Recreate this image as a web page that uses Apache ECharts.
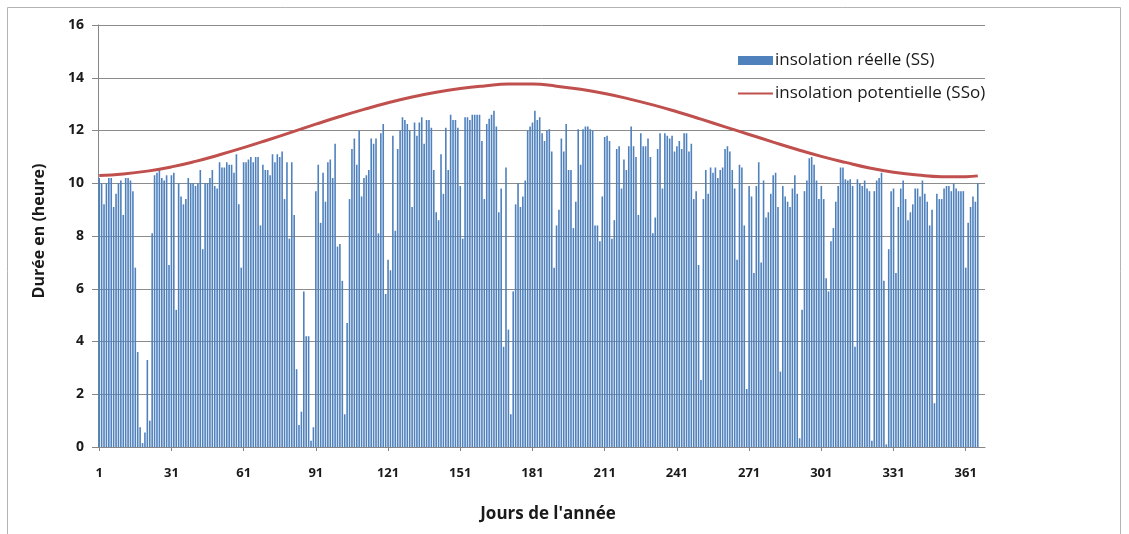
<!DOCTYPE html>
<html>
<head>
<meta charset="utf-8">
<script src="https://cdn.jsdelivr.net/npm/echarts@6/dist/echarts.min.js"></script>
<style>
  html, body { margin: 0; padding: 0; background: #fff; }
  #chart { width: 1129px; height: 534px; }
</style>
</head>
<body>
<div id="chart"></div>
<script>
// Daily sunshine duration (hours), days 1..366
const ssValues = [
  10.2, 10.0, 9.2, 10.0, 10.2, 10.2, 9.1, 9.6, 10.0, 10.1,
  8.8, 10.2, 10.2, 10.1, 9.7, 6.8, 3.6, 0.75, 0.15, 0.55,
  3.3, 1.0, 8.1, 10.3, 10.4, 10.5, 10.2, 10.1, 10.3, 6.9,
  10.3, 10.4, 5.2, 10.0, 9.5, 9.2, 9.4, 10.2, 10.0, 10.0,
  9.9, 10.0, 10.5, 7.5, 10.0, 10.0, 10.2, 10.5, 9.9, 9.8,
  10.8, 10.6, 10.6, 10.8, 10.7, 10.7, 10.4, 11.1, 9.2, 6.8,
  10.8, 10.8, 10.9, 11.0, 10.8, 11.0, 11.0, 8.4, 10.7, 10.5,
  10.5, 10.3, 11.1, 10.8, 11.1, 11.0, 11.2, 9.4, 10.8, 7.9,
  10.8, 8.8, 2.95, 0.83, 1.34, 5.9, 4.2, 4.2, 0.24, 0.75,
  9.7, 10.7, 8.5, 10.4, 9.3, 10.8, 10.9, 10.2, 11.5, 7.6,
  7.7, 6.3, 1.24, 4.7, 9.4, 11.3, 11.7, 10.7, 12.0, 9.5,
  10.2, 10.3, 10.5, 11.7, 11.5, 11.7, 8.1, 11.9, 12.25, 5.8,
  7.1, 6.7, 11.8, 8.2, 11.3, 12.0, 12.5, 12.4, 12.25, 12.0,
  9.1, 12.3, 11.8, 12.3, 12.5, 11.5, 12.4, 12.4, 12.1, 10.5,
  8.9, 8.6, 11.1, 9.6, 12.1, 10.5, 12.6, 12.4, 12.4, 12.1,
  9.9, 7.9, 12.5, 12.5, 12.4, 12.6, 12.6, 12.6, 12.6, 11.6,
  9.4, 12.25, 12.45, 12.6, 12.75, 12.15, 8.9, 9.8, 3.8, 10.6,
  4.45, 1.24, 5.9, 9.2, 10.0, 9.1, 9.5, 10.1, 12.0, 12.15,
  12.3, 12.75, 12.4, 12.5, 11.9, 11.6, 12.0, 12.05, 11.2, 6.8,
  8.4, 9.0, 11.7, 11.2, 12.25, 10.5, 10.5, 8.3, 9.3, 12.05,
  10.7, 12.05, 12.15, 12.15, 12.05, 12.0, 8.4, 8.4, 7.8, 9.5,
  11.75, 11.8, 11.6, 7.9, 8.6, 11.3, 11.4, 9.8, 10.9, 10.5,
  11.4, 12.15, 11.4, 11.0, 8.8, 11.9, 11.4, 11.4, 11.7, 11.0,
  8.1, 8.7, 11.3, 11.9, 9.8, 11.9, 11.8, 11.7, 11.8, 11.2,
  11.4, 11.6, 11.3, 11.9, 11.9, 11.2, 11.5, 9.4, 9.7, 6.9,
  2.54, 9.4, 10.5, 9.6, 10.6, 10.4, 10.6, 10.2, 10.5, 10.6,
  11.3, 11.4, 11.2, 10.5, 9.8, 7.1, 10.7, 10.6, 8.4, 2.2,
  9.9, 9.5, 6.6, 9.9, 10.8, 7.0, 10.1, 8.7, 8.9, 9.6,
  10.3, 10.4, 9.1, 2.86, 9.9, 9.5, 9.3, 9.1, 9.8, 10.3,
  9.6, 0.33, 5.2, 9.7, 10.1, 10.95, 11.0, 10.7, 10.1, 9.4,
  9.9, 9.4, 6.4, 5.9, 7.8, 8.3, 9.3, 9.9, 10.6, 10.6,
  10.15, 10.1, 10.15, 9.9, 3.8, 10.15, 10.0, 9.9, 10.1, 9.8,
  9.7, 0.24, 9.7, 10.1, 10.2, 10.4, 6.3, 0.1, 7.5, 9.7,
  9.8, 6.6, 9.1, 9.8, 10.1, 9.4, 8.6, 8.9, 9.2, 9.8,
  9.8, 9.5, 10.1, 9.6, 9.3, 8.4, 9.0, 1.66, 9.6, 9.4,
  9.4, 9.8, 9.9, 9.9, 9.7, 10.0, 9.8, 9.7, 9.7, 9.7,
  6.8, 8.5, 9.1, 9.5, 9.3, 10.0
];

// Potential sunshine duration (hours), read every 10 days
const ssoDays = [1, 11, 21, 31, 41, 51, 61, 71, 81, 91, 101, 111, 121, 131, 141, 151, 161, 171, 181,
  191, 201, 211, 221, 231, 241, 251, 261, 271, 281, 291, 301, 311, 321, 331, 341, 351, 361, 366];
const ssoValues = [10.29, 10.35, 10.46, 10.62, 10.83, 11.08, 11.35, 11.64, 11.94, 12.24, 12.53, 12.8,
  13.05, 13.27, 13.45, 13.59, 13.69, 13.76, 13.76, 13.68, 13.56, 13.4, 13.2, 12.97, 12.71, 12.43,
  12.14, 11.85, 11.56, 11.28, 11.02, 10.79, 10.58, 10.42, 10.31, 10.25, 10.25, 10.28];

const dayTicks = [1, 31, 61, 91, 121, 151, 181, 211, 241, 271, 301, 331, 361];

const ssData = ssValues.map((v, i) => [i + 1, v]);
const ssoData = ssoDays.map((d, i) => [d, ssoValues[i]]);

const FONT = '"Open Sans", Lato, sans-serif';
const TEXT = '#1a1a1a';
const AXIS = '#868686';
const chart = echarts.init(document.getElementById('chart'), null, { renderer: 'canvas' });

chart.setOption({
  animation: false,
  backgroundColor: '#ffffff',
  graphic: [{
    type: 'rect',
    shape: { x: 7.5, y: 7.5, width: 1113, height: 540 },
    style: { fill: 'none', stroke: '#b3b3b3', lineWidth: 1 },
    z: -1
  }],
  grid: { left: 98, right: 144, top: 25, bottom: 87 },
  legend: {
    left: 737,
    top: 52,
    padding: 0,
    orient: 'vertical',
    itemWidth: 35,
    itemHeight: 9,
    itemGap: 16,
    textStyle: { fontFamily: FONT, fontSize: 17, color: TEXT, padding: [0, 0, 0, -3] },
    data: [
      { name: 'insolation réelle (SS)', icon: 'rect' },
      { name: 'insolation potentielle (SSo)', itemStyle: { opacity: 0 } }
    ]
  },
  xAxis: {
    type: 'value',
    min: 0.5,
    max: 369,
    name: "Jours de l'année",
    nameLocation: 'middle',
    nameGap: 59,
    nameTextStyle: { fontFamily: FONT, fontSize: 17, fontWeight: 'bold', color: TEXT, padding: [0, 0, 0, 13] },
    axisLine: { show: true, lineStyle: { color: AXIS, width: 1 } },
    axisTick: { show: true, customValues: dayTicks, length: 4, lineStyle: { color: AXIS } },
    axisLabel: {
      customValues: dayTicks,
      fontFamily: FONT, fontSize: 13, fontWeight: 'bold', color: TEXT, margin: 20
    },
    splitLine: { show: false }
  },
  yAxis: {
    type: 'value',
    min: 0,
    max: 16,
    interval: 2,
    name: 'Durée en (heure)',
    nameLocation: 'middle',
    nameRotate: 90,
    nameGap: 51,
    nameTextStyle: { fontFamily: FONT, fontSize: 16, fontWeight: 'bold', color: TEXT, padding: [0, 0, 0, 10] },
    axisLine: { show: true, lineStyle: { color: AXIS, width: 1 } },
    axisTick: { show: true, length: 6, lineStyle: { color: AXIS } },
    axisLabel: { fontFamily: FONT, fontSize: 14, fontWeight: 'bold', color: TEXT, margin: 14 },
    splitLine: { show: true, lineStyle: { color: '#8c8c8c', width: 1 } }
  },
  series: [
    {
      name: 'insolation réelle (SS)',
      type: 'bar',
      data: ssData,
      barWidth: 1.6,
      itemStyle: { color: '#4f81bd' },
      z: 2
    },
    {
      name: 'insolation potentielle (SSo)',
      type: 'line',
      data: ssoData,
      smooth: 0.5,
      showSymbol: false,
      symbol: 'none',
      lineStyle: { color: '#c0504d', width: 3 },
      itemStyle: { color: '#c0504d' },
      z: 3
    }
  ]
});
</script>
</body>
</html>
